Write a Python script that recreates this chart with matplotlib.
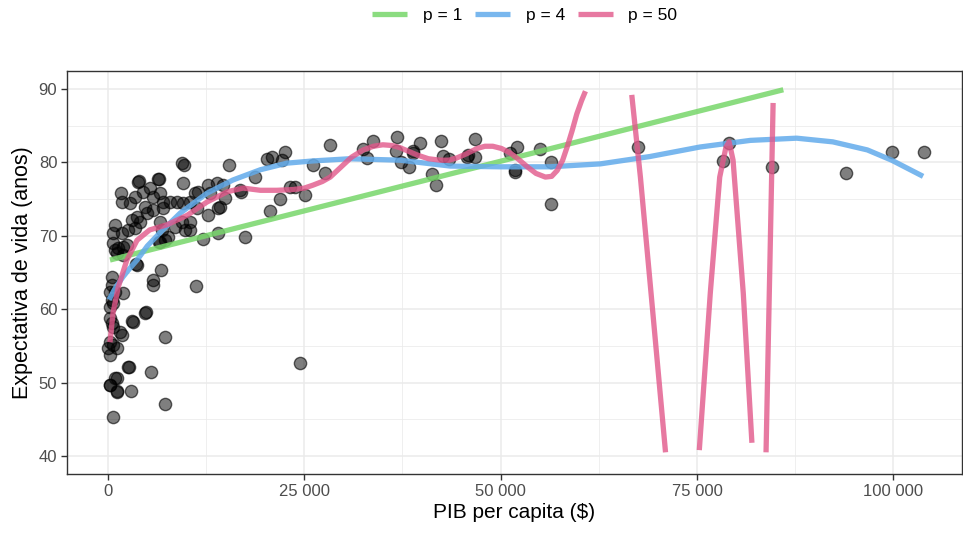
import numpy as np
import matplotlib
matplotlib.use("Agg")
import matplotlib.pyplot as plt
from matplotlib.ticker import FuncFormatter, MultipleLocator

plt.rcParams['font.family'] = ['Liberation Sans', 'DejaVu Sans']

# --- scatter data (GDP per capita, life expectancy) ---
gdp = [67500, 78300, 79100, 84500, 94000, 99800, 103900,
       56400, 56400, 55000, 52100, 51800, 51800, 51200,
       28300, 26100, 27600, 25100, 32500, 33800, 33000, 36800, 36700, 37300, 38300,
       38800, 38800, 39700, 42400, 42700, 43400, 41300, 41800, 46700, 45800, 46700, 45700,
       24500,
       9400, 9700, 15400, 20200, 20900, 22500, 22200, 18700, 23200, 23800,
       20600, 21900, 17400, 14000, 12100, 11200, 7300, 7300, 4800, 3200,
       2700, 5500, 2900, 600, 250, 1100, 1100, 5700, 5700, 6700, 3600, 6600,
       500, 500, 250, 900, 1900, 3700, 500, 640, 250, 4700, 3100, 250, 500, 640,
       1500, 1800, 250, 640, 1100, 250, 0, 2500, 900, 250, 1100,
       9600, 6400, 3800, 1650, 1800, 2800, 3400, 4500, 5300, 5700, 6600, 7000, 7900,
       8800, 9600, 10400, 11100, 4700, 5700, 7000, 3700, 3100, 4100, 2500, 3400, 900,
       640, 6600, 6900, 9400, 10400, 9800, 7300, 8500, 5000, 640, 1300, 1900, 2400,
       1100, 1900, 1800, 16800, 16900, 12700, 13900, 14600, 11500, 13000, 11300, 12700,
       14000, 14300, 14900, 10400, 3900, 6500, 7600, 6500, 900]
lifeexp = [82.1, 80.2, 82.6, 79.4, 78.6, 81.4, 81.4,
           80.1, 74.4, 81.8, 82.1, 79.0, 78.7, 81.3,
           82.4, 79.6, 78.6, 75.6, 81.8, 82.9, 80.6, 83.5, 81.6, 80.0, 79.4,
           81.3, 81.6, 82.6, 82.9, 80.9, 80.5, 78.4, 76.9, 83.2, 81.0, 80.8, 80.8,
           52.7,
           79.9, 79.6, 79.6, 80.5, 80.7, 81.4, 80.3, 78.0, 76.6, 76.7,
           73.4, 75.0, 69.8, 70.4, 69.6, 63.1, 56.2, 47.1, 59.6, 58.3,
           52.1, 51.4, 48.9, 45.3, 49.7, 50.6, 48.9, 64.0, 63.3, 65.3, 66.2, 69.2,
           64.4, 63.3, 62.3, 62.3, 62.2, 66.0, 61.3, 60.8, 60.3, 59.5, 58.4, 58.8, 58.1, 57.6,
           56.9, 56.5, 55.5, 55.1, 54.7, 53.8, 54.7, 52.1, 50.6, 49.7, 48.7,
           77.2, 77.7, 77.3, 75.8, 74.6, 74.5, 75.3, 76.0, 76.5, 75.3, 75.8, 74.6, 74.6,
           74.6, 74.5, 74.6, 75.8, 73.9, 73.5, 73.8, 72.6, 72.2, 71.9, 70.8, 71.1, 71.5,
           70.4, 71.9, 70.8, 71.9, 71.9, 70.8, 69.4, 71.2, 73.1, 69.0, 68.3, 68.5, 68.7,
           67.7, 67.4, 70.4, 76.2, 76.0, 76.9, 77.2, 76.9, 76.0, 75.8, 73.8, 72.8,
           73.8, 73.9, 75.2, 70.8, 77.5, 77.7, 69.8, 69.2, 68.0]

# --- fitted curves ---
fit1_x = [250, 86000]
fit1_y = [66.7, 89.9]

fit4_x = [130, 1000, 1900, 2800, 3700, 5000, 6600, 9200, 12600, 15900, 19400, 22800, 26100,
          30800, 37200, 43600, 49900, 56300, 62700, 69000, 75400, 81800, 87700, 92300,
          96700, 99800, 103800]
fit4_y = [61.3, 63.0, 64.4, 65.6, 66.7, 68.6, 70.4, 73.1, 75.8, 77.6, 79.0, 79.9, 80.2,
          80.5, 80.3, 79.5, 79.4, 79.4, 79.8, 80.8, 82.1, 83.0, 83.3, 82.8,
          81.7, 80.3, 78.1]

nan = float('nan')
fit50_x = [250, 640, 1300, 2400, 3700, 5300, 7500, 10100, 12600, 15200, 17200,
           19400, 21500, 23600, 25000, 26100, 27300, 28300, 29500, 31000, 32500, 33800,
           35000, 36200, 37200, 38300, 39400, 40800, 42300, 43400, 44400, 45700, 47000,
           48000, 49000, 50100, 51200, 52300, 53400, 54500, 55700, 56500, 57200, 57900,
           58500, 59100, 59700, 60300, 60800,
           63500,
           66700, 67800, 69300, 71000,
           73000,
           75300, 76700, 77900, 78700, 79100, 79600, 80900, 82000,
           83000,
           83800, 84300, 84700]
fit50_y = [55.5, 59.5, 63.0, 66.7, 69.4, 70.8, 71.5, 72.8, 74.6, 76.0, 76.5,
           76.2, 76.2, 76.3, 76.5, 76.9, 77.4, 78.0, 79.2, 80.7, 81.7, 82.2,
           82.4, 82.3, 82.0, 81.5, 81.0, 80.5, 80.3, 80.3, 80.6, 81.2, 81.9,
           82.2, 82.2, 81.9, 81.3, 80.4, 79.4, 78.5, 78.0, 78.1, 78.9, 80.3,
           82.2, 84.3, 86.6, 88.4, 89.7,
           nan,
           89.2, 78.0, 60.5, 40.5,
           nan,
           40.8, 62.2, 78.0, 82.1, 82.8, 80.3, 62.2, 41.8,
           nan,
           40.5, 66.7, 88.1]

labels = ["p = 1", "p = 4", "p = 50"]
colors = ["#77D66A", "#62ABEB", "#E2578A"]

fig = plt.figure(figsize=(9.63, 5.34), dpi=100)
ax = fig.add_axes([0.0696, 0.1124, 0.9294, 0.7546])

ax.scatter(gdp, lifeexp, s=78, facecolor=(0, 0, 0, 0.5), edgecolor=(0, 0, 0, 0.6),
           linewidth=1.0, zorder=3)
ax.plot(fit1_x, fit1_y, color=colors[0], lw=3.8, alpha=0.85, label=labels[0],
        solid_capstyle='butt', zorder=4)
ax.plot(fit4_x, fit4_y, color=colors[1], lw=3.8, alpha=0.85, label=labels[1],
        solid_capstyle='butt', zorder=4)
ax.plot(fit50_x, fit50_y, color=colors[2], lw=3.8, alpha=0.8, label=labels[2],
        solid_capstyle='butt', zorder=5)

ax.set_xlim(-5220, 108760)
ax.set_ylim(37.55, 92.45)
ax.xaxis.set_major_locator(MultipleLocator(25000))
ax.xaxis.set_minor_locator(MultipleLocator(12500))
ax.yaxis.set_major_locator(MultipleLocator(10))
ax.yaxis.set_minor_locator(MultipleLocator(5))
ax.xaxis.set_major_formatter(FuncFormatter(lambda v, p: f"{int(round(v)):,}".replace(",", " ")))
ax.grid(which='major', color='#EBEBEB', lw=1.1, zorder=0)
ax.grid(which='minor', color='#EBEBEB', lw=0.55, zorder=0)
ax.set_axisbelow(True)
for s in ax.spines.values():
    s.set_color('#333333')
    s.set_linewidth(1.0)
ax.tick_params(which='major', length=4, color='#333333', width=1.0,
               labelsize=12, labelcolor='#4D4D4D', pad=3)
ax.tick_params(which='minor', length=0)
ax.set_xlabel("PIB per capita ($)", fontsize=15, labelpad=3)
ax.set_ylabel("Expectativa de vida (anos)", fontsize=15.5, labelpad=4)

fig.legend(loc='upper center', bbox_to_anchor=(0.545, 1.015), ncol=3, frameon=False,
           fontsize=12.5, handlelength=2.0, columnspacing=0.75, handletextpad=0.9)

fig.savefig("out.png", dpi=100)
